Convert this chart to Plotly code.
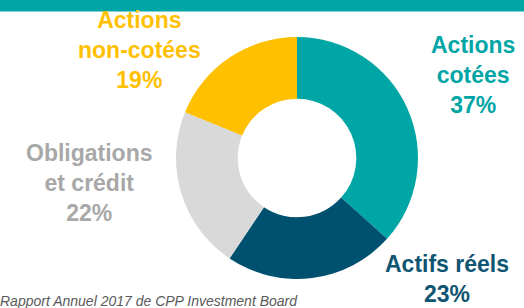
import plotly.graph_objects as go

categories = ["Actions cotées", "Actifs réels", "Obligations et crédit", "Actions non-cotées"]
values = [37, 23, 22, 19]
label_lines = [["Actions", "cotées"], ["Actifs réels"], ["Obligations", "et crédit"], ["Actions", "non-cotées"]]
slice_colors = ["#00A6A5", "#00506F", "#D9D9D9", "#FFC000"]
text_colors = ["#00A6A5", "#0E5572", "#A8A8A8", "#FFC000"]
source_text = "Rapport Annuel 2017 de CPP Investment Board"

W, H = 524, 308
fig = go.Figure(go.Pie(
    labels=categories, values=values, hole=0.49, sort=False, direction="clockwise",
    rotation=0, marker=dict(colors=slice_colors, line=dict(width=0)),
    textinfo="none", hoverinfo="label+percent", showlegend=False,
    domain=dict(x=[176/W, 418/W], y=[(H-279)/H, (H-37)/H]),
))

# label positions (pixel centers) for each category
label_pos = [(473, 75), (447, 279), (89, 183), (139, 50)]
for lines, v, col, (px, py) in zip(label_lines, values, text_colors, label_pos):
    fig.add_annotation(
        text="<br>".join(lines + [f"{v}%"]), x=px/W, y=(H-py)/H, xref="paper", yref="paper",
        xanchor="center", yanchor="middle", showarrow=False, align="center",
        font=dict(family="Liberation Sans", size=23, color=col, weight="bold"),
    )

fig.add_annotation(
    text=source_text, x=-2/W, y=(H-300.5)/H, xref="paper", yref="paper",
    xanchor="left", yanchor="middle", showarrow=False,
    font=dict(family="Liberation Sans", size=14, color="#595959", style="italic"),
)

fig.add_shape(type="rect", xref="paper", yref="paper", x0=0, x1=1, y0=(H-11.5)/H, y1=1,
              fillcolor="#00A6A5", line=dict(width=0), layer="above")

fig.update_layout(width=W, height=H, margin=dict(l=0, r=0, t=0, b=0),
                  paper_bgcolor="white", plot_bgcolor="white")
fig.write_html("out.html", config={"displayModeBar": False},
               post_script="document.body.style.margin='0';document.body.style.overflow='hidden';")
